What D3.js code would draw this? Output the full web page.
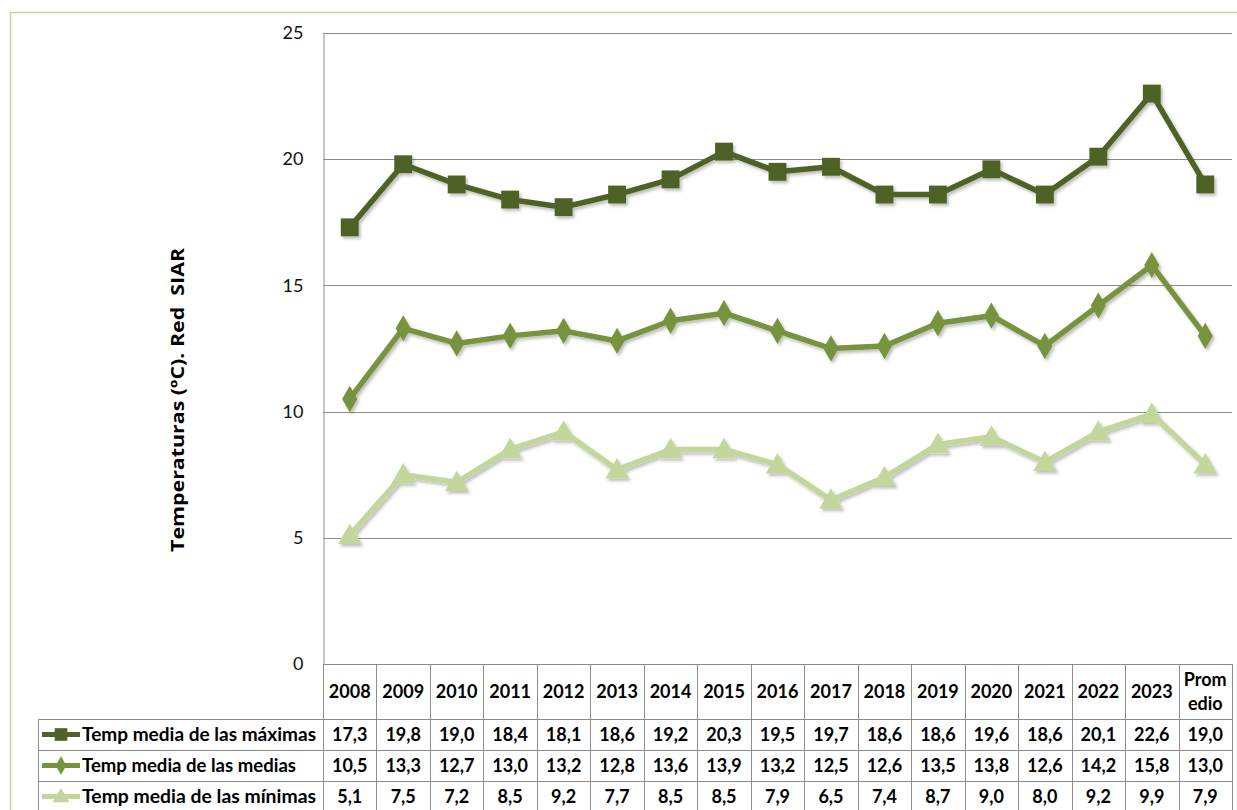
<!DOCTYPE html>
<html><head><meta charset="utf-8">
<script src="https://cdn.jsdelivr.net/npm/d3@7"></script>
<style>
html,body{margin:0;padding:0;background:#fff;}
svg{display:block;}
text{font-family:Lato,"Open Sans",sans-serif;}
</style></head>
<body>
<script>
const categories = ["2008","2009","2010","2011","2012","2013","2014","2015","2016","2017","2018","2019","2020","2021","2022","2023","Promedio"];
const seriesNames = ["Temp media de las máximas","Temp media de las medias","Temp media de las mínimas"];
const maximas = [17.3,19.8,19.0,18.4,18.1,18.6,19.2,20.3,19.5,19.7,18.6,18.6,19.6,18.6,20.1,22.6,19.0];
const medias  = [10.5,13.3,12.7,13.0,13.2,12.8,13.6,13.9,13.2,12.5,12.6,13.5,13.8,12.6,14.2,15.8,13.0];
const minimas = [5.1,7.5,7.2,8.5,9.2,7.7,8.5,8.5,7.9,6.5,7.4,8.7,9.0,8.0,9.2,9.9,7.9];
const yTicks = [0,5,10,15,20,25];
const yTitle = "Temperaturas (ºC). Red  SIAR";

const W=1237,H=810;
const plot={l:323,r:1232,t:33,b:664};
const colors=["#4f6228","#77933c","#c3d69b"];
const symbols=[d3.symbolSquare,d3.symbolDiamond,d3.symbolTriangle];
const symSize=[320,200,240];
const data=[maximas,medias,minimas];
const legendWidths=[234,214,234];

const svg=d3.select("body").append("svg").attr("width",W).attr("height",H);
const defs=svg.append("defs");
const f=defs.append("filter").attr("id","sh").attr("x","-30%").attr("y","-30%").attr("width","170%").attr("height","170%");
f.append("feDropShadow").attr("dx",2).attr("dy",2.5).attr("stdDeviation",1.5).attr("flood-color","#000").attr("flood-opacity",0.25);

// outer border
svg.append("path").attr("d",`M10.5,${H}V12.5H${W}`).attr("fill","none").attr("stroke","#c6d1b0").attr("stroke-width",1.5);

const x=d3.scaleBand().domain(categories).range([plot.l,plot.r]);
const y=d3.scaleLinear().domain([0,25]).range([plot.b,plot.t]);
const cx=c=>x(c)+x.bandwidth()/2;

// gridlines
svg.append("g").selectAll("line").data(yTicks.filter(t=>t>0)).join("line")
  .attr("x1",plot.l).attr("x2",plot.r).attr("y1",d=>Math.round(y(d))+0.5).attr("y2",d=>Math.round(y(d))+0.5)
  .attr("stroke","#8c8c8c").attr("stroke-width",1);

// y axis
const ya=svg.append("g").attr("transform",`translate(${plot.l+0.5},0)`)
  .call(d3.axisLeft(y).tickValues(yTicks).tickSize(0).tickPadding(20));
ya.select(".domain").attr("stroke","#8c8c8c");
ya.selectAll("text").attr("font-size",18).attr("fill","#111").style("font-family","Lato,'Open Sans',sans-serif");

// y title
svg.append("text").attr("transform",`translate(184,400) rotate(-90)`).attr("text-anchor","middle")
  .style("font-family","'Open Sans',Lato,sans-serif").style("white-space","pre")
  .attr("font-size",18.5).attr("font-weight","bold").attr("fill","#000")
  .attr("textLength",304).attr("lengthAdjust","spacingAndGlyphs").text(yTitle);

// table
const rowY=[plot.b,719,750,781,H+5];
const tg=svg.append("g").attr("stroke","#8c8c8c").attr("stroke-width",1).attr("fill","none");
tg.append("line").attr("x1",plot.l).attr("x2",plot.r).attr("y1",plot.b+0.5).attr("y2",plot.b+0.5);
[719,750,781].forEach(v=>tg.append("line").attr("x1",38).attr("x2",plot.r).attr("y1",v+0.5).attr("y2",v+0.5));
const colEdges=categories.map(c=>x(c)).concat([plot.r]);
colEdges.forEach(v=>tg.append("line").attr("x1",Math.round(v)+0.5).attr("x2",Math.round(v)+0.5).attr("y1",plot.b).attr("y2",H));
tg.append("line").attr("x1",38.5).attr("x2",38.5).attr("y1",719).attr("y2",H);

// header
const hdr=svg.append("g").attr("font-size",18).attr("font-weight","bold").attr("fill","#000").attr("text-anchor","middle");
categories.forEach(c=>{
  if(c==="Promedio"){
    hdr.append("text").attr("x",cx(c)).attr("y",686).text("Prom");
    hdr.append("text").attr("x",cx(c)).attr("y",710).text("edio");
  } else hdr.append("text").attr("x",cx(c)).attr("y",698).text(c);
});
// values
const fmt=v=>v.toFixed(1).replace(".",",");
data.forEach((arr,i)=>{
  const ky=(rowY[i+1]+(i<2?rowY[i+2]:H+2))/2;
  const yy=ky+6.5;
  const g=svg.append("g").attr("font-size",18).attr("font-weight","bold").attr("fill","#000").attr("text-anchor","middle");
  arr.forEach((v,j)=>g.append("text").attr("x",cx(categories[j])).attr("y",yy).text(fmt(v)));
  g.append("line").attr("x1",42).attr("x2",80).attr("y1",ky).attr("y2",ky).attr("stroke",colors[i]).attr("stroke-width",5);
  g.append("path").attr("d",d3.symbol(symbols[i],symSize[i]*0.5)()).attr("transform",`translate(61,${ky+(i===2?1:0)})`).attr("fill",colors[i]);
  g.append("text").attr("x",82).attr("y",yy).attr("text-anchor","start")
    .attr("textLength",legendWidths[i]).attr("lengthAdjust","spacingAndGlyphs").text(seriesNames[i]);
});

// lines
const line=d3.line().x((d,i)=>cx(categories[i])).y(d=>y(d));
data.forEach((arr,i)=>{
  const g=svg.append("g").attr("filter","url(#sh)");
  g.append("path").datum(arr).attr("d",line).attr("fill","none").attr("stroke",colors[i]).attr("stroke-width",5.5).attr("stroke-linejoin","round");
  g.selectAll("path.m").data(arr).join("path").attr("class","m")
    .attr("d",d3.symbol(symbols[i],symSize[i])())
    .attr("transform",(d,j)=>`translate(${cx(categories[j])},${y(d)+(i===2?2:0)})`)
    .attr("fill",colors[i]);
});
</script>
</body></html>
